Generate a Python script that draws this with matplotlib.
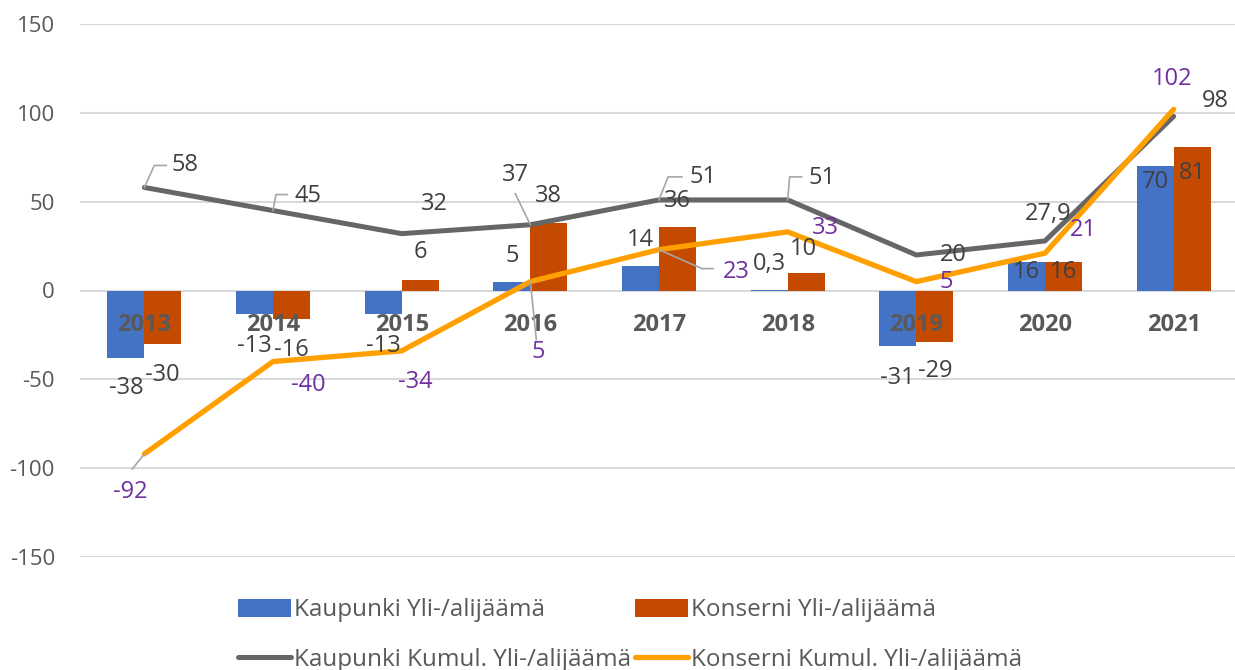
import numpy as np
import matplotlib
matplotlib.use("Agg")
import matplotlib.pyplot as plt
from matplotlib.lines import Line2D

plt.rcParams['font.family'] = ['Open Sans', 'DejaVu Sans']

# data
years = ['2013', '2014', '2015', '2016', '2017', '2018', '2019', '2020', '2021']
kaupunki = [-38, -13, -13, 5, 14, 0.3, -31, 16, 70]
konserni = [-30, -16, 6, 38, 36, 10, -29, 16, 81]
kaupunki_kumul = [58, 45, 32, 37, 51, 51, 20, 27.9, 98]
konserni_kumul = [-92, -40, -34, 5, 23, 33, 5, 21, 102]

# label offsets in pixels (dx, dy up)
off_k = [(0, -30), (0, -32), (0, -32), (0, 26), (0, 26), (0, 26), (0, -32), (0, -10), (0, -16)]
off_ko = [(0, -31), (0, -31), (0, 28), (0, 27), (0, 26), (-3, 24), (0, -29), (0, -10), (0, -26)]
off_kk = [(41, 22), (35, 15), (33, 30), (-15, 50), (44, 23), (34, 22), (37, 0), (3, 27), (42, 15)]
off_kok = [(-14, -38), (35, -23), (14, -31), (8, -70), (77, -22), (38, 4), (30, 0), (38, 23), (-2, 30)]
# leader lines (vertices relative to point, pixels)
lead_kk = {0: [(0, 0), (10, 22), (22, 22)], 1: [(0, 0), (3, 16), (14, 16)],
           3: [(0, 0), (-15, 31)], 4: [(0, 0), (9, 23), (23, 23)], 5: [(0, 0), (2, 23), (14, 23)]}
lead_kok = {0: [(0, 0), (-12, -15)], 3: [(0, 0), (6, -58)], 4: [(0, 0), (43, -19), (54, -19)]}

def fmt(v):
    return ('%g' % v).replace('.', ',')

fig = plt.figure(figsize=(12.35, 6.7), dpi=100)
ax = fig.add_axes([80 / 1235, 113 / 670, 1158 / 1235, 533 / 670])

x = np.arange(len(years))
w = 0.287
ax.bar(x - w / 2, kaupunki, w, color='#4472C4', label='Kaupunki Yli-/alijäämä', zorder=2)
ax.bar(x + w / 2, konserni, w, color='#C44A00', label='Konserni Yli-/alijäämä', zorder=2)
ax.plot(x, kaupunki_kumul, color='#666666', lw=3.6, solid_joinstyle='round',
        solid_capstyle='round', label='Kaupunki Kumul. Yli-/alijäämä', zorder=3)
ax.plot(x, konserni_kumul, color='#FFA000', lw=3.8, solid_joinstyle='round',
        solid_capstyle='round', label='Konserni Kumul. Yli-/alijäämä', zorder=4)

ax.set_xlim(-0.5, len(years) - 0.5)
ax.set_ylim(-150, 150)
ax.set_yticks([-150, -100, -50, 0, 50, 100, 150])
ax.set_yticklabels(['-150', '-100', '-50', '0', '50', '100', '150'])
ax.tick_params(axis='y', length=0, pad=18, labelsize=16, labelcolor='#595959')
ax.set_xticks([])
for s in ax.spines.values():
    s.set_visible(False)
ax.grid(axis='y', color='#D9D9D9', lw=1.5, zorder=0)

for i, yr in enumerate(years):
    ax.text(i, -19.2, yr, ha='center', va='center', fontsize=17, fontweight='bold',
            color='#595959', zorder=5)

def leader(xd, yd, verts):
    px, py = ax.transData.transform((xd, yd))
    xs = [px + v[0] for v in verts]
    ys = [py + v[1] for v in verts]
    fig.add_artist(Line2D(xs, ys, transform=None, color='#A6A6A6', lw=1.2, zorder=6))

def label(xd, yd, text, off, color):
    ax.annotate(text, (xd, yd), xytext=off, textcoords='offset pixels', ha='center',
                va='center', fontsize=17, color=color, zorder=7)

for i in range(len(years)):
    label(x[i] - w / 2, kaupunki[i], fmt(kaupunki[i]), off_k[i], '#404040')
    label(x[i] + w / 2, konserni[i], fmt(konserni[i]), off_ko[i], '#404040')
    label(x[i], kaupunki_kumul[i], fmt(kaupunki_kumul[i]), off_kk[i], '#404040')
    label(x[i], konserni_kumul[i], fmt(konserni_kumul[i]), off_kok[i], '#7030A0')
for i, v in lead_kk.items():
    leader(x[i], kaupunki_kumul[i], v)
for i, v in lead_kok.items():
    leader(x[i], konserni_kumul[i], v)

handles, labels = ax.get_legend_handles_labels()
lookup = dict(zip(labels, handles))
# ncol=2 fills column-wise
names = ['Kaupunki Yli-/alijäämä', 'Kaupunki Kumul. Yli-/alijäämä',
         'Konserni Yli-/alijäämä', 'Konserni Kumul. Yli-/alijäämä']
fig.legend([lookup[n] for n in names], names, ncol=2, loc='center',
           bbox_to_anchor=(630 / 1235, 35 / 670), frameon=False, fontsize=17.5,
           labelcolor='#595959', handlelength=2.2, handletextpad=0.12,
           columnspacing=0.15, labelspacing=1.05, handleheight=0.75)

fig.savefig('out.png', dpi=100)
